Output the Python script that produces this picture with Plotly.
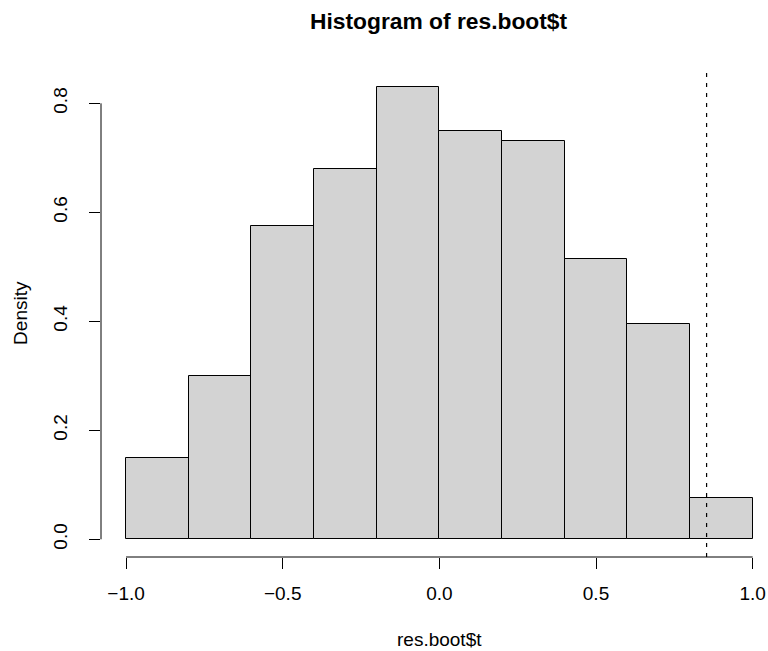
import plotly.graph_objects as go

# Histogram data (density scale), breaks from -1 to 1 by 0.2
breaks = [-1.0, -0.8, -0.6, -0.4, -0.2, 0.0, 0.2, 0.4, 0.6, 0.8, 1.0]
density = [0.150, 0.300, 0.575, 0.680, 0.830, 0.750, 0.730, 0.515, 0.395, 0.075]
observed_t = 0.853  # dashed reference line

x_ticks = [-1.0, -0.5, 0.0, 0.5, 1.0]
x_ticktext = ["\u22121.0", "\u22120.5", "0.0", "0.5", "1.0"]
y_ticks = [0.0, 0.2, 0.4, 0.6, 0.8]
y_ticktext = ["0.0", "0.2", "0.4", "0.6", "0.8"]

title_text = "<b>Histogram of res.boot$t</b>"
x_title = "res.boot$t"
y_title = "Density"

centers = [(a + b) / 2 for a, b in zip(breaks[:-1], breaks[1:])]
widths = [b - a for a, b in zip(breaks[:-1], breaks[1:])]

FONT = "Liberation Sans, Arial, Helvetica, sans-serif"
W, H = 768, 651
ML, MR, MT, MB = 101, 0, 69, 94
PH = H - MT - MB
PW = W - ML - MR

def py(ypix):
    return (H - MB - ypix) / PH

def px(xpix):
    return (xpix - ML) / PW

fig = go.Figure()
fig.add_trace(go.Bar(
    x=centers, y=density, width=widths,
    marker=dict(color="#D3D3D3", line=dict(color="black", width=1)),
    showlegend=False, hoverinfo="skip",
))

fig.update_layout(
    width=W, height=H,
    margin=dict(l=ML, r=MR, t=MT, b=MB, pad=0),
    paper_bgcolor="white", plot_bgcolor="white",
    font=dict(family=FONT, size=19, color="black"),
    bargap=0,
    xaxis=dict(
        range=[-1.08, 1.049], showgrid=False, zeroline=False, showline=False,
        ticks="outside", ticklen=11, tickwidth=1, tickcolor="black",
        tickvals=x_ticks, ticktext=x_ticktext, tickfont=dict(size=19),
        ticklabelstandoff=8,
    ),
    yaxis=dict(
        range=[-0.0325, 0.863], showgrid=False, zeroline=False, showline=False,
        ticks="outside", ticklen=11, tickwidth=1, tickcolor="black",
        tickvals=y_ticks, ticktext=y_ticktext, tickfont=dict(size=19),
        tickangle=-90, ticklabelstandoff=14,
    ),
    shapes=[
        dict(type="line", xref="x", yref="paper", x0=breaks[0], x1=breaks[-1], y0=0, y1=0,
             line=dict(color="black", width=1)),
        dict(type="line", xref="paper", yref="y", x0=0, x1=0, y0=y_ticks[0], y1=y_ticks[-1],
             line=dict(color="black", width=1)),
        dict(type="line", xref="x", yref="paper", x0=observed_t, x1=observed_t, y0=0, y1=1,
             line=dict(color="black", width=1.2, dash="4px,6px")),
    ],
    annotations=[
        dict(text=title_text, xref="x", yref="paper", x=0, y=py(21.5),
             xanchor="center", yanchor="middle", showarrow=False,
             font=dict(size=22.8, family=FONT, color="black")),
        dict(text=x_title, xref="x", yref="paper", x=0, y=py(639),
             xanchor="center", yanchor="middle", showarrow=False,
             font=dict(size=19, family=FONT, color="black")),
        dict(text=y_title, xref="paper", yref="paper", x=px(19.9), y=py(313),
             xanchor="center", yanchor="middle", showarrow=False, textangle=-90,
             font=dict(size=19, family=FONT, color="black")),
    ],
)

fig.write_html("out.html")
